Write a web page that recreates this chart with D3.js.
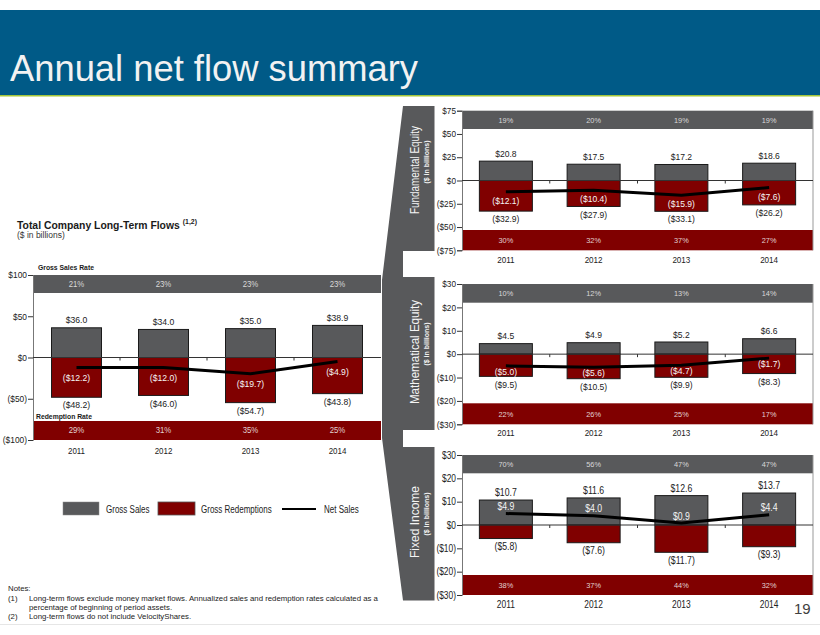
<!DOCTYPE html>
<html>
<head>
<meta charset="utf-8">
<style>
body { margin: 0; padding: 0; background: #ffffff; }
svg { display: block; }
text { font-family: "Liberation Sans", Arial, sans-serif; }
</style>
</head>
<body>
<svg id="slide" width="820" height="635"></svg>
<script src="https://cdn.jsdelivr.net/npm/d3@7"></script>
<script>
// ---- data ----
var years = ["2011", "2012", "2013", "2014"];

var totalSales = [36.0, 34.0, 35.0, 38.9];
var totalRedemptions = [-48.2, -46.0, -54.7, -43.8];
var totalNet = [-12.2, -12.0, -19.7, -4.9];
var totalSalesRate = ["21%", "23%", "23%", "23%"];
var totalRedemptionRate = ["29%", "31%", "35%", "25%"];
var totalTicks = [100, 50, 0, -50, -100];

var fundSales = [20.8, 17.5, 17.2, 18.6];
var fundRedemptions = [-32.9, -27.9, -33.1, -26.2];
var fundNet = [-12.1, -10.4, -15.9, -7.6];
var fundSalesRate = ["19%", "20%", "19%", "19%"];
var fundRedemptionRate = ["30%", "32%", "37%", "27%"];
var fundTicks = [75, 50, 25, 0, -25, -50, -75];

var mathSales = [4.5, 4.9, 5.2, 6.6];
var mathRedemptions = [-9.5, -10.5, -9.9, -8.3];
var mathNet = [-5.0, -5.6, -4.7, -1.7];
var mathSalesRate = ["10%", "12%", "13%", "14%"];
var mathRedemptionRate = ["22%", "26%", "25%", "17%"];
var mathTicks = [30, 20, 10, 0, -10, -20, -30];

var fixedSales = [10.7, 11.6, 12.6, 13.7];
var fixedRedemptions = [-5.8, -7.6, -11.7, -9.3];
var fixedNet = [4.9, 4.0, 0.9, 4.4];
var fixedSalesRate = ["70%", "56%", "47%", "47%"];
var fixedRedemptionRate = ["38%", "37%", "44%", "32%"];
var fixedTicks = [30, 20, 10, 0, -10, -20, -30];

var GRAY = "#58595b", RED = "#800000";

var svg = d3.select("#slide");

// narrow the text a bit, the slide font is condensed
function squeeze(sel, k) {
    sel.each(function() {
        var w = this.getComputedTextLength();
        d3.select(this).attr("textLength", w * k).attr("lengthAdjust", "spacingAndGlyphs");
    });
    return sel;
}
function money(v) { return v < 0 ? "($" + (-v).toFixed(1) + ")" : "$" + v.toFixed(1); }
function tickMoney(v) { return v < 0 ? "($" + (-v) + ")" : "$" + v; }

// ---- header ----
svg.append("rect").attr("x", 0).attr("y", 10).attr("width", 820).attr("height", 85).attr("fill", "#005a87");
svg.append("rect").attr("x", 0).attr("y", 95).attr("width", 820).attr("height", 1.5).attr("fill", "#a4c639");
svg.append("text").attr("x", 10).attr("y", 81).attr("fill", "#f2f2f2")
    .style("font-size", "37px").text("Annual net flow summary")
    .attr("textLength", 408).attr("lengthAdjust", "spacingAndGlyphs");

// ---- one chart panel ----
function drawPanel(c) {
    var g = svg.append("g");
    var x = d3.scaleBand().domain(years).range([c.x0, c.x1]).paddingInner(0).paddingOuter(0);
    var y = d3.scaleLinear().domain(c.domain).range([c.yBottom, c.yTop]);
    var bw = c.barW, fs = c.fs;

    // rate bands
    g.append("rect").attr("x", c.x0).attr("y", c.yTop).attr("width", c.x1 - c.x0).attr("height", c.topBand).attr("fill", GRAY);
    g.append("rect").attr("x", c.x0).attr("y", c.yBottom - c.botBand).attr("width", c.x1 - c.x0).attr("height", c.botBand).attr("fill", RED);
    squeeze(g.selectAll(".srate").data(c.salesRate).enter().append("text")
        .attr("x", (d, i) => x(years[i]) + x.bandwidth() / 2).attr("y", c.yTop + c.topBand / 2).attr("dy", "0.35em")
        .attr("text-anchor", "middle").attr("fill", "#d8d8d8").style("font-size", fs.rate + "px").text(d => d), 0.92);
    squeeze(g.selectAll(".rrate").data(c.redRate).enter().append("text")
        .attr("x", (d, i) => x(years[i]) + x.bandwidth() / 2).attr("y", c.yBottom - c.botBand / 2).attr("dy", "0.35em")
        .attr("text-anchor", "middle").attr("fill", "#e0d0d0").style("font-size", fs.rate + "px").text(d => d), 0.92);

    // y axis
    var ya = d3.axisLeft(y).tickValues(c.ticks).tickSize(5).tickFormat(tickMoney);
    var ag = g.append("g").attr("transform", "translate(" + c.x0 + ",0)").call(ya);
    ag.select(".domain").attr("stroke", "#777");
    ag.selectAll(".tick line").attr("stroke", "#333");
    ag.selectAll(".tick text").attr("fill", "#222").attr("x", -6).style("font-size", fs.tick + "px").attr("font-family", null);
    squeeze(ag.selectAll(".tick text"), fs.tickK);
    if (c.rightBorder) {
        g.append("line").attr("x1", c.x1).attr("x2", c.x1).attr("y1", c.yTop).attr("y2", c.yBottom).attr("stroke", "#999");
    }

    // bars
    g.selectAll(".sales").data(c.sales).enter().append("rect")
        .attr("x", (d, i) => x(years[i]) + (x.bandwidth() - bw) / 2).attr("width", bw)
        .attr("y", d => y(d)).attr("height", d => y(0) - y(d))
        .attr("fill", GRAY).attr("stroke", "#1a1a1a").attr("stroke-width", 1);
    g.selectAll(".red").data(c.red).enter().append("rect")
        .attr("x", (d, i) => x(years[i]) + (x.bandwidth() - bw) / 2).attr("width", bw)
        .attr("y", y(0)).attr("height", d => y(d) - y(0))
        .attr("fill", RED).attr("stroke", "#1a1a1a").attr("stroke-width", 1);

    // zero line with category ticks
    g.append("line").attr("x1", c.x0).attr("x2", c.x1).attr("y1", y(0)).attr("y2", y(0)).attr("stroke", "#333").attr("stroke-width", 1);
    g.selectAll(".sep").data(years.slice(1)).enter().append("line")
        .attr("x1", d => x(d)).attr("x2", d => x(d)).attr("y1", y(0)).attr("y2", y(0) + 3)
        .attr("stroke", "#333");

    // net sales line
    var line = d3.line().x((d, i) => x(years[i]) + x.bandwidth() / 2).y(d => y(d));
    g.append("path").datum(c.net).attr("d", line).attr("fill", "none").attr("stroke", "#000").attr("stroke-width", 3);

    // value labels
    squeeze(g.selectAll(".sl").data(c.sales).enter().append("text")
        .attr("x", (d, i) => x(years[i]) + x.bandwidth() / 2).attr("y", d => y(d) - 7.5).attr("dy", "0.35em")
        .attr("text-anchor", "middle").attr("fill", "#222").style("font-size", fs.val + "px").text(money), fs.valK);
    squeeze(g.selectAll(".rl").data(c.red).enter().append("text")
        .attr("x", (d, i) => x(years[i]) + x.bandwidth() / 2).attr("y", d => y(d) + 8).attr("dy", "0.35em")
        .attr("text-anchor", "middle").attr("fill", "#222").style("font-size", fs.val + "px").text(money), fs.valK);
    squeeze(g.selectAll(".nl").data(c.net).enter().append("text")
        .attr("x", (d, i) => x(years[i]) + x.bandwidth() / 2).attr("y", d => y(d) + c.netOff).attr("dy", "0.35em")
        .attr("text-anchor", "middle").attr("fill", "#f4f4f4").style("font-size", fs.val + "px").text(money), fs.valK);

    // years
    squeeze(g.selectAll(".yr").data(years).enter().append("text")
        .attr("x", d => x(d) + x.bandwidth() / 2).attr("y", c.yBottom + c.yearOff).attr("dy", "0.35em")
        .attr("text-anchor", "middle").attr("fill", "#222").style("font-size", fs.year + "px").text(d => d), fs.yearK);
    return g;
}

drawPanel({
    x0: 33, x1: 381, yTop: 275, yBottom: 440, domain: [-100, 100], ticks: totalTicks,
    topBand: 18, botBand: 19, barW: 50, netOff: 10, yearOff: 11,
    sales: totalSales, red: totalRedemptions, net: totalNet,
    salesRate: totalSalesRate, redRate: totalRedemptionRate,
    fs: { tick: 9, tickK: 0.93, val: 9, valK: 0.96, rate: 8.5, year: 9, yearK: 0.88 }
});
drawPanel({
    x0: 462, x1: 813, yTop: 110.7, yBottom: 250.3, domain: [-75, 75], ticks: fundTicks,
    topBand: 18.3, botBand: 20.3, barW: 53, netOff: 9, yearOff: 10, rightBorder: true,
    sales: fundSales, red: fundRedemptions, net: fundNet,
    salesRate: fundSalesRate, redRate: fundRedemptionRate,
    fs: { tick: 8.5, tickK: 0.97, val: 9, valK: 0.95, rate: 8, year: 8.5, yearK: 0.95 }
});
drawPanel({
    x0: 462, x1: 813, yTop: 284, yBottom: 424.3, domain: [-30, 30], ticks: mathTicks,
    topBand: 18.7, botBand: 21, barW: 53, netOff: 6, yearOff: 9, rightBorder: true,
    sales: mathSales, red: mathRedemptions, net: mathNet,
    salesRate: mathSalesRate, redRate: mathRedemptionRate,
    fs: { tick: 8.5, tickK: 0.97, val: 9, valK: 0.95, rate: 8, year: 8.5, yearK: 0.95 }
});
drawPanel({
    x0: 462, x1: 813, yTop: 455, yBottom: 595, domain: [-30, 30], ticks: fixedTicks,
    topBand: 18.3, botBand: 20, barW: 53, netOff: -7, yearOff: 9.5, rightBorder: true,
    sales: fixedSales, red: fixedRedemptions, net: fixedNet,
    salesRate: fixedSalesRate, redRate: fixedRedemptionRate,
    fs: { tick: 10, tickK: 0.84, val: 10.5, valK: 0.83, rate: 8, year: 10, yearK: 0.84 }
});

// ---- left chart titles ----
var ttl = svg.append("text").attr("x", 17).attr("y", 229).attr("fill", "#1a1a1a")
    .style("font-size", "10.5px").style("font-weight", "bold");
ttl.append("tspan").text("Total Company Long-Term Flows");
ttl.append("tspan").attr("dx", 3).attr("dy", -5).style("font-size", "7px").text("(1,2)");
ttl.attr("textLength", 180).attr("lengthAdjust", "spacingAndGlyphs");
svg.append("text").attr("x", 17).attr("y", 238).attr("fill", "#333")
    .style("font-size", "8.5px").text("($ in billions)");
squeeze(svg.append("text").attr("x", 38).attr("y", 270).attr("fill", "#1a1a1a")
    .style("font-size", "8px").style("font-weight", "bold").text("Gross Sales Rate"), 0.85);
squeeze(svg.append("text").attr("x", 36).attr("y", 419).attr("fill", "#1a1a1a")
    .style("font-size", "8px").style("font-weight", "bold").text("Redemption Rate"), 0.85);

// ---- fan connecting left chart to the three panels ----
var fan = [[403, 106], [434.5, 106], [434.5, 251], [403, 251], [403, 277], [434.5, 277], [434.5, 430],
           [403, 430], [403, 447], [434.5, 447], [434.5, 600.5], [403, 600.5], [382, 438], [382, 280]];
svg.append("path").attr("d", d3.line()(fan) + "Z").attr("fill", GRAY);

var sideTitles = ["Fundamental Equity", "Mathematical Equity", "Fixed Income"];
var sideCenters = [170, 352, 522];
var sideLengths = [88, 104, 72];
svg.selectAll(".side").data(sideTitles).enter().append("text")
    .attr("transform", (d, i) => "translate(419," + sideCenters[i] + ") rotate(-90)")
    .attr("text-anchor", "middle").attr("fill", "#f4f4f4").style("font-size", "12px")
    .attr("textLength", (d, i) => sideLengths[i]).attr("lengthAdjust", "spacingAndGlyphs")
    .text(d => d);
svg.selectAll(".sideSub").data(sideTitles).enter().append("text")
    .attr("transform", (d, i) => "translate(428.5," + (sideCenters[i] - 8) + ") rotate(-90)")
    .attr("text-anchor", "middle").attr("fill", "#f0f0f0").style("font-size", "7px").style("font-weight", "bold")
    .text("($ in billions)");

// ---- legend ----
var legend = svg.append("g");
legend.append("rect").attr("x", 63).attr("y", 502).attr("width", 36).attr("height", 13).attr("fill", GRAY).attr("stroke", "#888").attr("stroke-width", 0.5);
legend.append("rect").attr("x", 158).attr("y", 502).attr("width", 37).attr("height", 13).attr("fill", RED).attr("stroke", "#555").attr("stroke-width", 0.8);
legend.append("line").attr("x1", 282).attr("x2", 316).attr("y1", 509).attr("y2", 509).attr("stroke", "#000").attr("stroke-width", 2);
var legendText = ["Gross Sales", "Gross Redemptions", "Net Sales"];
var legendX = [106, 201, 324];
squeeze(legend.selectAll(".lt").data(legendText).enter().append("text")
    .attr("x", (d, i) => legendX[i]).attr("y", 509).attr("dy", "0.35em")
    .attr("fill", "#222").style("font-size", "10px").text(d => d), 0.8);

// ---- notes ----
var notes = svg.append("g").attr("fill", "#222").style("font-size", "7.8px");
notes.append("text").attr("x", 8).attr("y", 591).text("Notes:");
notes.append("text").attr("x", 8).attr("y", 601).text("(1)");
notes.append("text").attr("x", 29).attr("y", 601).text("Long-term flows exclude money market flows. Annualized sales and redemption rates calculated as a");
notes.append("text").attr("x", 29).attr("y", 610).text("percentage of beginning of period assets.");
notes.append("text").attr("x", 8).attr("y", 619).text("(2)");
notes.append("text").attr("x", 29).attr("y", 619).text("Long-term flows do not include VelocityShares.");

// ---- footer ----
svg.append("line").attr("x1", 0).attr("x2", 820).attr("y1", 624.5).attr("y2", 624.5).attr("stroke", "#e6e6e6");
svg.append("text").attr("x", 794).attr("y", 614).attr("fill", "#404040").style("font-size", "15px").text("19");
</script>
</body>
</html>
